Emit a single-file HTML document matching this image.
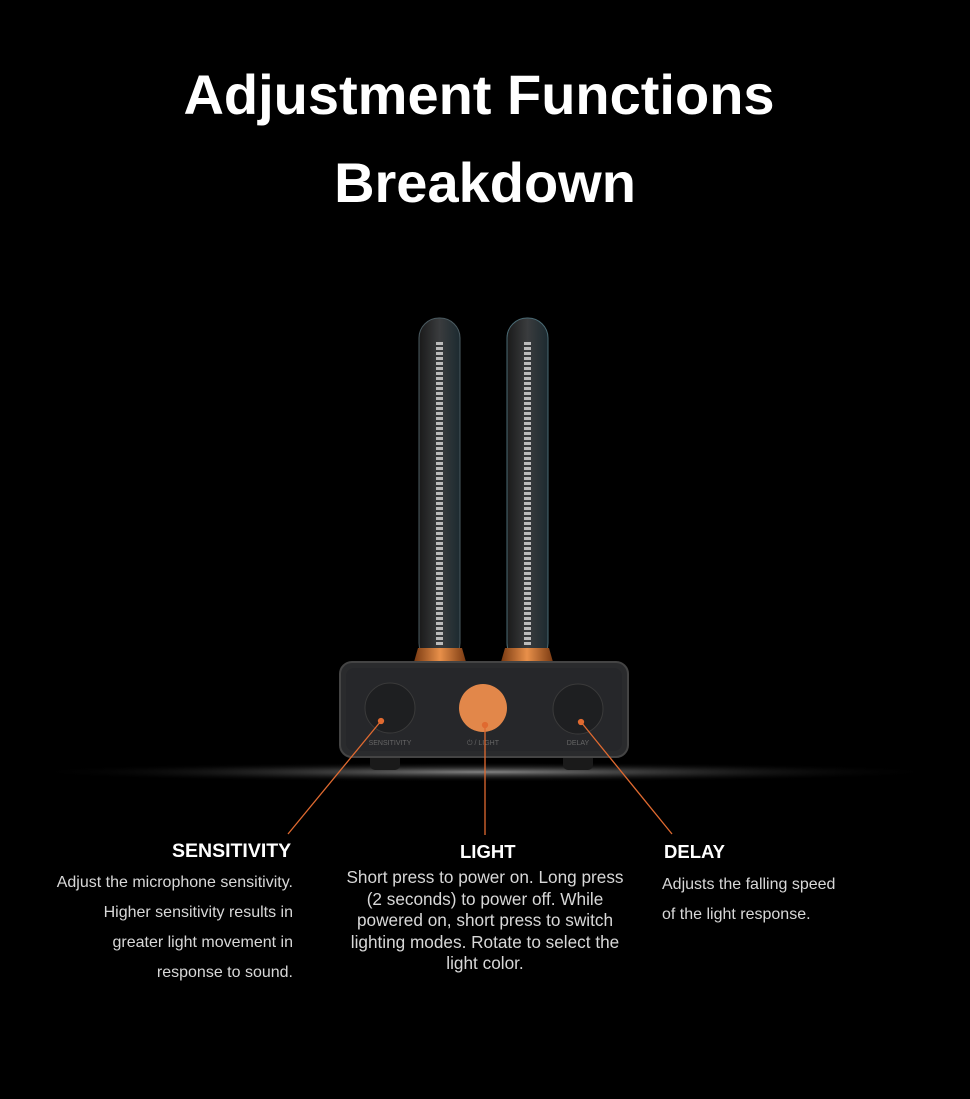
<!DOCTYPE html>
<html><head><style>
body{margin:0;width:970px;height:1099px;background:#000;overflow:hidden;position:relative;font-family:"Liberation Sans",sans-serif;color:#fff}
.t{position:absolute;left:0;width:970px;text-align:center;font-weight:bold;font-size:56px;letter-spacing:0}
.h{position:absolute;font-weight:bold;font-size:18.5px;top:841px}
.p{position:absolute;color:#d8d8d8}
</style></head><body>
<div class="t" style="top:62px;left:-6px">Adjustment Functions</div>
<div class="t" style="top:150px">Breakdown</div>
<svg width="970" height="1099" style="position:absolute;left:0;top:0">
<defs>
<radialGradient id="g" cx="0.5" cy="0.5" r="0.5"><stop offset="0" stop-color="#bbb" stop-opacity="0.7"/><stop offset="1" stop-color="#000" stop-opacity="0"/></radialGradient>
<linearGradient id="cu" x1="0" x2="1"><stop offset="0" stop-color="#7a3a12"/><stop offset="0.5" stop-color="#e8904a"/><stop offset="1" stop-color="#7a3a12"/></linearGradient>
<linearGradient id="tb" x1="0" x2="1"><stop offset="0" stop-color="#1a1a1a"/><stop offset="0.5" stop-color="#3a3c3e"/><stop offset="1" stop-color="#1c2a30"/></linearGradient>
</defs>
<ellipse cx="485" cy="772" rx="460" ry="10" fill="url(#g)"/>
<g>
<rect x="419" y="318" width="41" height="345" rx="20" fill="url(#tb)" stroke="#4a5a60" stroke-width="1"/>
<line x1="439.5" y1="342" x2="439.5" y2="647" stroke="#bbb" stroke-width="7" stroke-dasharray="3 2"/>
<rect x="507" y="318" width="41" height="345" rx="20" fill="url(#tb)" stroke="#4a6a74" stroke-width="1"/>
<line x1="527.5" y1="342" x2="527.5" y2="647" stroke="#bbb" stroke-width="7" stroke-dasharray="3 2"/>
<path d="M414 662 L418 648 L462 648 L466 662Z" fill="url(#cu)"/>
<path d="M501 662 L505 648 L549 648 L553 662Z" fill="url(#cu)"/>
<rect x="370" y="752" width="30" height="18" rx="5" fill="#1a1a1a"/>
<rect x="563" y="752" width="30" height="18" rx="5" fill="#1a1a1a"/>
<rect x="340" y="662" width="288" height="95" rx="12" fill="#2a2b2d" stroke="#444" stroke-width="2"/>
<rect x="346" y="668" width="276" height="83" rx="8" fill="#26272a"/>
<circle cx="390" cy="708" r="25" fill="#1e1f21" stroke="#3a3a3a"/>
<circle cx="483" cy="708" r="24" fill="#e2874a"/>
<circle cx="578" cy="709" r="25" fill="#1e1f21" stroke="#3a3a3a"/>
<text x="390" y="745" font-size="7" fill="#666" text-anchor="middle" font-family="Liberation Sans">SENSITIVITY</text>
<text x="483" y="745" font-size="7" fill="#666" text-anchor="middle" font-family="Liberation Sans">⏻ / LIGHT</text>
<text x="578" y="745" font-size="7" fill="#666" text-anchor="middle" font-family="Liberation Sans">DELAY</text>
</g>
<g stroke="#e06a30" stroke-width="1.3" fill="#e06a30">
<line x1="381" y1="721" x2="288" y2="834"/><circle cx="381" cy="721" r="2.5"/>
<line x1="485" y1="725" x2="485" y2="835"/><circle cx="485" cy="725" r="2.5"/>
<line x1="581" y1="722" x2="672" y2="834"/><circle cx="581" cy="722" r="2.5"/>
</g>
</svg>
<div class="h" style="left:172px;font-size:19.5px;top:840px">SENSITIVITY</div>
<div class="h" style="left:460px">LIGHT</div>
<div class="h" style="left:664px">DELAY</div>
<div class="p" style="right:677px;top:868px;text-align:right;line-height:30px;font-size:16px">Adjust the microphone sensitivity.<br>Higher sensitivity results in<br>greater light movement in<br>response to sound.</div>
<div class="p" style="left:300px;width:370px;top:867px;text-align:center;line-height:21.5px;font-size:17.2px">Short press to power on. Long press<br>(2 seconds) to power off. While<br>powered on, short press to switch<br>lighting modes. Rotate to select the<br>light color.</div>
<div class="p" style="left:662px;top:870px;line-height:30px;font-size:16px">Adjusts the falling speed<br>of the light response.</div>
</body></html>
